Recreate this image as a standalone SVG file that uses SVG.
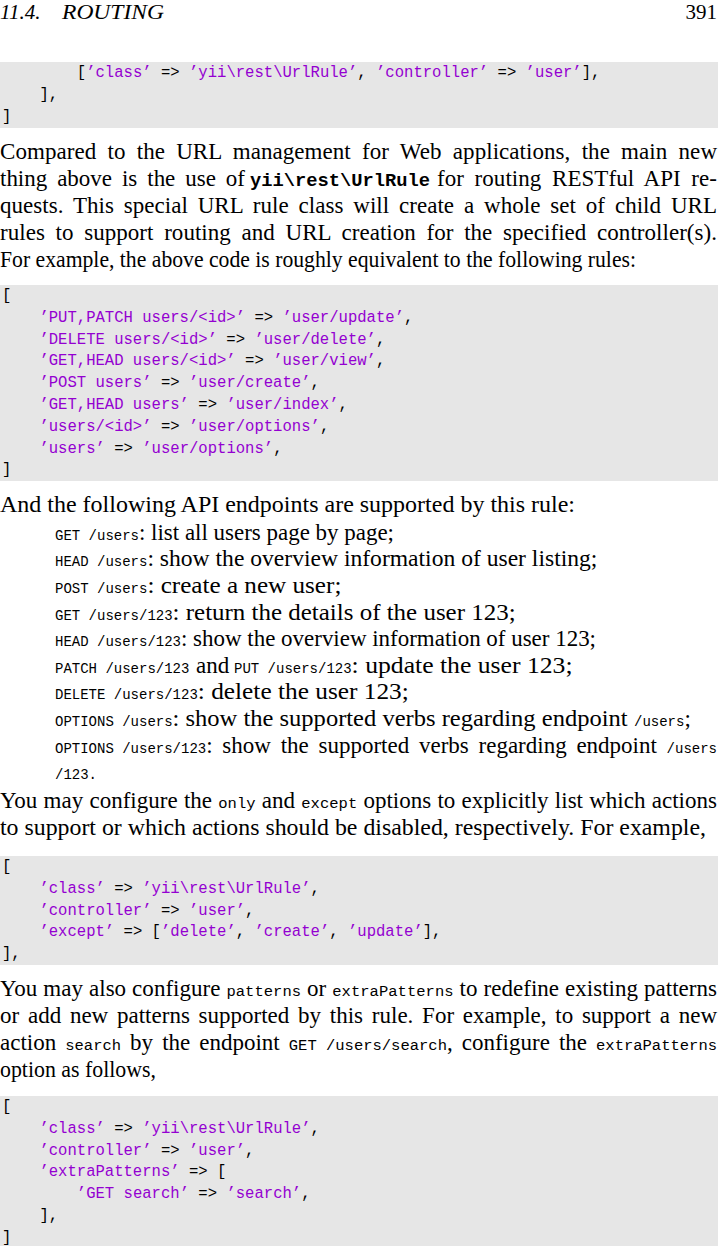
<svg xmlns="http://www.w3.org/2000/svg" width="718" height="1249" viewBox="0 0 718 1249">
<style>
.b{font-family:"Liberation Serif","Times New Roman",serif;font-size:23px;fill:#000}
.h{font-family:"Liberation Serif","Times New Roman",serif;font-size:21px;fill:#000}
.hi{font-style:italic}
.c{font-family:"Liberation Mono","Courier New",monospace;font-size:15.58px;fill:#000}
.s{fill:#9400d1}
.t{font-family:"Liberation Mono","Courier New",monospace;font-size:14px;fill:#000;word-spacing:0}
.t2{font-family:"Liberation Mono","Courier New",monospace;font-size:15.5px;fill:#000;word-spacing:0}
.tb{font-family:"Liberation Mono","Courier New",monospace;font-size:18.75px;font-weight:bold;fill:#000}
.bg{fill:#e6e6e6}
</style>
<rect width="718" height="1249" fill="#fff"/>
<g id="header">
<text class="h hi" x="0" y="19">11.4.</text>
<text class="h hi" x="62" y="19" textLength="102" lengthAdjust="spacingAndGlyphs">ROUTING</text>
<text class="h" x="717" y="19" text-anchor="end">391</text>
</g>
<g id="code1">
<rect class="bg" x="0" y="62" width="718" height="66"/>
<text class="c" x="76.8" y="77" xml:space="preserve">[<tspan class="s">’class’</tspan> =&gt; <tspan class="s">’yii\rest\UrlRule’</tspan>, <tspan class="s">’controller’</tspan> =&gt; <tspan class="s">’user’</tspan>],</text>
<text class="c" x="39.4" y="98.8">],</text>
<text class="c" x="2" y="120.6">]</text>
</g>
<g id="para1">
<text class="b" x="0" y="158.5" word-spacing="5.4" textLength="717" lengthAdjust="spacing">Compared to the URL management for Web applications, the main new</text>
<text class="b" x="0" y="185.6" word-spacing="4.2" textLength="245" lengthAdjust="spacing">thing above is the use of</text>
<text class="tb" x="250" y="185.6">yii\rest\UrlRule</text>
<text class="b" x="437" y="185.6" word-spacing="4.8" textLength="280" lengthAdjust="spacing">for routing RESTful API re-</text>
<text class="b" x="0" y="212.7" word-spacing="4.1" textLength="717" lengthAdjust="spacing">quests.  This special URL rule class will create a whole set of child URL</text>
<text class="b" x="0" y="239.8" word-spacing="4.9" textLength="717" lengthAdjust="spacing">rules to support routing and URL creation for the specified controller(s).</text>
<text class="b" x="0" y="266.9" textLength="636" lengthAdjust="spacingAndGlyphs">For example, the above code is roughly equivalent to the following rules:</text>
</g>
<g id="code2">
<rect class="bg" x="0" y="285" width="718" height="196"/>
<text class="c" x="2" y="300">[</text>
<text class="c" x="39.4" y="321.8" xml:space="preserve"><tspan class="s">’PUT,PATCH users/&lt;id&gt;’</tspan> =&gt; <tspan class="s">’user/update’</tspan>,</text>
<text class="c" x="39.4" y="343.6" xml:space="preserve"><tspan class="s">’DELETE users/&lt;id&gt;’</tspan> =&gt; <tspan class="s">’user/delete’</tspan>,</text>
<text class="c" x="39.4" y="365.4" xml:space="preserve"><tspan class="s">’GET,HEAD users/&lt;id&gt;’</tspan> =&gt; <tspan class="s">’user/view’</tspan>,</text>
<text class="c" x="39.4" y="387.2" xml:space="preserve"><tspan class="s">’POST users’</tspan> =&gt; <tspan class="s">’user/create’</tspan>,</text>
<text class="c" x="39.4" y="409" xml:space="preserve"><tspan class="s">’GET,HEAD users’</tspan> =&gt; <tspan class="s">’user/index’</tspan>,</text>
<text class="c" x="39.4" y="430.8" xml:space="preserve"><tspan class="s">’users/&lt;id&gt;’</tspan> =&gt; <tspan class="s">’user/options’</tspan>,</text>
<text class="c" x="39.4" y="452.6" xml:space="preserve"><tspan class="s">’users’</tspan> =&gt; <tspan class="s">’user/options’</tspan>,</text>
<text class="c" x="2" y="474.4">]</text>
</g>
<g id="para2">
<text class="b" x="0" y="512" textLength="575" lengthAdjust="spacingAndGlyphs">And the following API endpoints are supported by this rule:</text>
<text class="t" x="55" y="539.5">GET /users</text>
<text class="b" x="139" y="539.5" textLength="255" lengthAdjust="spacingAndGlyphs">: list all users page by page;</text>
<text class="t" x="55" y="566.2">HEAD /users</text>
<text class="b" x="147.4" y="566.2" textLength="450" lengthAdjust="spacingAndGlyphs">: show the overview information of user listing;</text>
<text class="t" x="55" y="592.8">POST /users</text>
<text class="b" x="147.4" y="592.8" textLength="194" lengthAdjust="spacingAndGlyphs">: create a new user;</text>
<text class="t" x="55" y="619.5">GET /users/123</text>
<text class="b" x="172.6" y="619.5" textLength="343" lengthAdjust="spacingAndGlyphs">: return the details of the user 123;</text>
<text class="t" x="55" y="646.1">HEAD /users/123</text>
<text class="b" x="181" y="646.1" textLength="415" lengthAdjust="spacingAndGlyphs">: show the overview information of user 123;</text>
<text class="t" x="55" y="672.8">PATCH /users/123</text>
<text class="b" x="196" y="672.8">and</text>
<text class="t" x="234" y="672.8">PUT /users/123</text>
<text class="b" x="351.6" y="672.8" textLength="221" lengthAdjust="spacingAndGlyphs">: update the user 123;</text>
<text class="t" x="55" y="699.4">DELETE /users/123</text>
<text class="b" x="197.8" y="699.4" textLength="211" lengthAdjust="spacingAndGlyphs">: delete the user 123;</text>
<text class="t" x="55" y="726.1">OPTIONS /users</text>
<text class="b" x="172.6" y="726.1" textLength="455" lengthAdjust="spacingAndGlyphs">: show the supported verbs regarding endpoint</text>
<text class="t" x="634" y="726.1">/users</text>
<text class="b" x="684.4" y="726.1">;</text>
<text class="b" x="55" y="752.7" word-spacing="4" textLength="662" lengthAdjust="spacing"><tspan class="t">OPTIONS /users/123</tspan>: show the supported verbs regarding endpoint <tspan class="t">/users</tspan></text>
<text class="t" x="55" y="779.4">/123.</text>
</g>
<g id="para3">
<text class="b" x="0" y="808" word-spacing="0.4" textLength="717" lengthAdjust="spacing">You may configure the <tspan class="t2">only</tspan> and <tspan class="t2">except</tspan> options to explicitly list which actions</text>
<text class="b" x="0" y="835" textLength="706" lengthAdjust="spacingAndGlyphs">to support or which actions should be disabled, respectively.  For example,</text>
</g>
<g id="code3">
<rect class="bg" x="0" y="856" width="718" height="109"/>
<text class="c" x="2" y="871">[</text>
<text class="c" x="39.4" y="892.8" xml:space="preserve"><tspan class="s">’class’</tspan> =&gt; <tspan class="s">’yii\rest\UrlRule’</tspan>,</text>
<text class="c" x="39.4" y="914.6" xml:space="preserve"><tspan class="s">’controller’</tspan> =&gt; <tspan class="s">’user’</tspan>,</text>
<text class="c" x="39.4" y="936.4" xml:space="preserve"><tspan class="s">’except’</tspan> =&gt; [<tspan class="s">’delete’</tspan>, <tspan class="s">’create’</tspan>, <tspan class="s">’update’</tspan>],</text>
<text class="c" x="2" y="958.2">],</text>
</g>
<g id="para4">
<text class="b" x="0" y="996" word-spacing="0.2" textLength="717" lengthAdjust="spacing">You may also configure <tspan class="t2">patterns</tspan> or <tspan class="t2">extraPatterns</tspan> to redefine existing patterns</text>
<text class="b" x="0" y="1023" word-spacing="3" textLength="717" lengthAdjust="spacing">or add new patterns supported by this rule.  For example, to support a new</text>
<text class="b" x="0" y="1050" word-spacing="3.3" textLength="717" lengthAdjust="spacing">action <tspan class="t2">search</tspan> by the endpoint <tspan class="t2">GET /users/search</tspan>, configure the <tspan class="t2">extraPatterns</tspan></text>
<text class="b" x="0" y="1077" textLength="156" lengthAdjust="spacingAndGlyphs">option as follows,</text>
</g>
<g id="code4">
<rect class="bg" x="0" y="1096" width="718" height="150"/>
<text class="c" x="2" y="1111">[</text>
<text class="c" x="39.4" y="1132.8" xml:space="preserve"><tspan class="s">’class’</tspan> =&gt; <tspan class="s">’yii\rest\UrlRule’</tspan>,</text>
<text class="c" x="39.4" y="1154.6" xml:space="preserve"><tspan class="s">’controller’</tspan> =&gt; <tspan class="s">’user’</tspan>,</text>
<text class="c" x="39.4" y="1176.4" xml:space="preserve"><tspan class="s">’extraPatterns’</tspan> =&gt; [</text>
<text class="c" x="76.8" y="1198.2" xml:space="preserve"><tspan class="s">’GET search’</tspan> =&gt; <tspan class="s">’search’</tspan>,</text>
<text class="c" x="39.4" y="1220">],</text>
<text class="c" x="2" y="1241.8">]</text>
</g>
</svg>
